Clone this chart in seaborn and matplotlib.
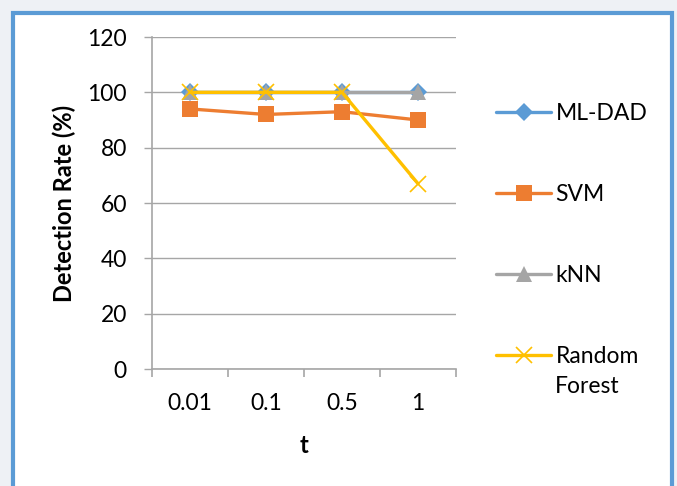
import matplotlib
matplotlib.use("Agg")
import matplotlib.pyplot as plt
from matplotlib.patches import Rectangle
from matplotlib.lines import Line2D
import seaborn as sns
import pandas as pd
import numpy as np

# Data
t_labels = ["0.01", "0.1", "0.5", "1"]
ml_dad = [100, 100, 100, 100]
svm = [94, 92, 93, 90]
knn = [100, 100, 100, 100]
random_forest = [100, 100, 100, 67]

methods = ["ML-DAD", "SVM", "kNN", "Random Forest"]
series = [ml_dad, svm, knn, random_forest]
colors = ["#5b9bd5", "#ed7d31", "#a5a5a5", "#ffc000"]
markers = ["D", "s", "^", "x"]
msizes = [9.5, 11.5, 12, 12]

rows = []
for m, vals in zip(methods, series):
    for i, v in enumerate(vals):
        rows.append({"pos": i, "t": t_labels[i], "method": m, "rate": v})
df = pd.DataFrame(rows)

sns.set_theme(style="white")
plt.rcParams['font.family'] = ['Lato', 'DejaVu Sans']
plt.rcParams['text.color'] = 'black'
plt.rcParams['axes.labelcolor'] = 'black'
fsize = 16.5
grid_col = "#a6a6a6"

fig = plt.figure(figsize=(6.77, 4.86), dpi=100)
fig.patch.set_facecolor("#eef1f5")
fig.patches.append(Rectangle((13 / 677, -0.1), (672 - 13) / 677, 1 - 13 / 486 + 0.1,
                             transform=fig.transFigure, facecolor="white",
                             edgecolor="#5b9bd5", linewidth=3, zorder=-5))

ax = fig.add_axes([152 / 677, 1 - 369 / 486, (456 - 152) / 677, (369 - 37) / 486])
ax.set_facecolor("white")

for m, c, mk, ms in zip(methods, colors, markers, msizes):
    sub = df[df["method"] == m]
    sns.lineplot(data=sub, x="pos", y="rate", color=c, linewidth=2.4, ax=ax,
                 marker=mk, markersize=ms, markeredgecolor=c,
                 markeredgewidth=1.2 if mk == "x" else 0, zorder=3)

ax.set_xlim(-0.5, 3.5)
ax.set_ylim(0, 120)
ax.set_yticks(np.arange(0, 121, 20))
ax.yaxis.grid(True, color=grid_col, linewidth=1)
ax.set_axisbelow(True)
for s in ["top", "right"]:
    ax.spines[s].set_visible(False)
for s in ["left", "bottom"]:
    ax.spines[s].set_color(grid_col)
    ax.spines[s].set_linewidth(1.2)

ax.set_xticks(np.arange(-0.5, 3.6, 1))
ax.set_xticklabels([])
ax.set_xticks(np.arange(0, 4), minor=True)
ax.set_xticklabels(t_labels, minor=True, fontsize=fsize)
ax.tick_params(axis="x", which="major", length=6, color=grid_col, width=1.2, bottom=True)
ax.tick_params(axis="x", which="minor", length=0, pad=17, labelcolor="black")
ax.tick_params(axis="y", length=6, color=grid_col, width=1, left=True, labelsize=fsize,
               pad=12, labelcolor="black")

ax.set_xlabel("t", fontsize=17, fontweight="bold", labelpad=15)
ax.set_ylabel("Detection Rate (%)", fontsize=17, fontweight="bold", labelpad=8)

handles = [Line2D([], [], color=c, marker=mk, markersize=ms, linewidth=2.4,
                  markeredgecolor=c, markeredgewidth=1.2 if mk == "x" else 0)
           for c, mk, ms in zip(colors, markers, msizes)]
leg = fig.legend(handles, ["ML-DAD", "SVM", "kNN", "Random"], loc="upper left",
                 bbox_to_anchor=(496 / 677, 1 - 103 / 486), frameon=False,
                 fontsize=fsize, handlelength=2.4, handletextpad=0.2,
                 labelspacing=2.62, borderpad=0, borderaxespad=0)
fig.text(555 / 677, 1 - 386 / 486, "Forest", fontsize=fsize, va="center", ha="left")

fig.savefig("out.png", dpi=100, facecolor=fig.get_facecolor())
